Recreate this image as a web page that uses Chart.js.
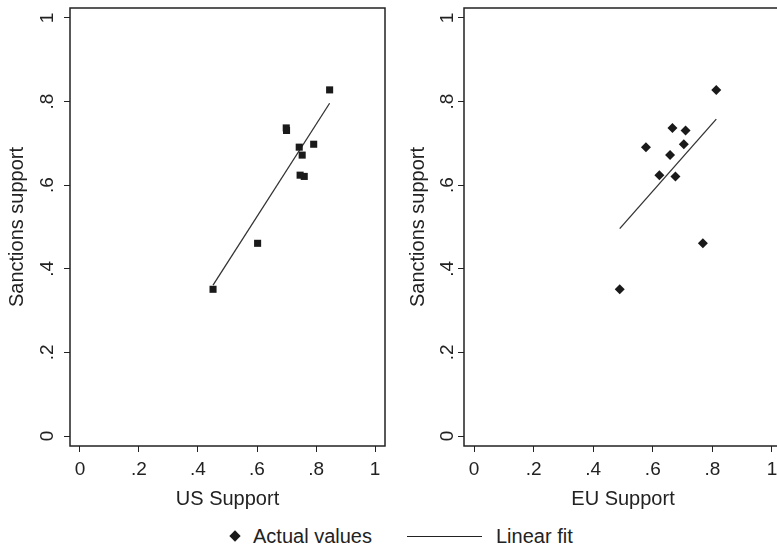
<!DOCTYPE html>
<html>
<head>
<meta charset="utf-8">
<script src="https://cdn.jsdelivr.net/npm/chart.js@4/dist/chart.umd.min.js"></script>
<style>
  body { margin: 0; width: 777px; height: 548px; overflow: hidden; background: #fff; position: relative; font-family: "Liberation Sans", Arial, sans-serif; }
  canvas { position: absolute; top: 0; }
  #us-chart { left: 0; }
  #eu-chart { left: 390px; }
  .legend { position: absolute; top: 524px; height: 24px; font-size: 20px; color: #222; line-height: 24px; }
  .diamond { position: absolute; left: 231px; top: 532px; width: 8px; height: 8px; background: #1a1a1a; transform: rotate(45deg); }
  .fitline { position: absolute; left: 407px; top: 536px; width: 75px; height: 0; border-top: 1.3px solid #222; }
</style>
</head>
<body>
<canvas id="us-chart" width="390" height="520"></canvas>
<canvas id="eu-chart" width="400" height="520"></canvas>
<div class="diamond"></div>
<div class="legend" style="left:253px">Actual values</div>
<div class="fitline"></div>
<div class="legend" style="left:496px">Linear fit</div>
<script>
// values
const sanctions = [0.828, 0.737, 0.731, 0.698, 0.691, 0.672, 0.624, 0.621, 0.461, 0.351];
const usSupport = [0.846, 0.699, 0.700, 0.792, 0.743, 0.753, 0.746, 0.760, 0.602, 0.451];
const euSupport = [0.813, 0.666, 0.710, 0.704, 0.577, 0.658, 0.622, 0.676, 0.768, 0.489];

const usFitX = [0.451, 0.846];
const usFitY = [0.361, 0.796];
const euFitX = [0.489, 0.813];
const euFitY = [0.496, 0.758];

const tickValues = [0, 0.2, 0.4, 0.6, 0.8, 1];
const tickLabels = ['0', '.2', '.4', '.6', '.8', '1'];

const font = '"Liberation Sans", Arial, sans-serif';
const ink = '#222';

// box round the plot area
const framePlugin = {
  id: 'frame',
  afterDraw(chart) {
    const a = chart.chartArea;
    const ctx = chart.ctx;
    ctx.save();
    ctx.strokeStyle = ink;
    ctx.lineWidth = 1.5;
    ctx.strokeRect(a.left, a.top, a.right - a.left, a.bottom - a.top);
    ctx.restore();
  }
};

function pairs(xs, ys) {
  return xs.map((x, i) => ({ x, y: ys[i] }));
}

function makeChart(id, xs, fitX, fitY, xTitle, marker, opts) {
  const shared = {
    afterBuildTicks: s => { s.ticks = tickValues.map(v => ({ value: v })); },
    border: { display: false },
    grid: { drawOnChartArea: false, drawTicks: true, tickLength: 6, color: ink, lineWidth: 1 },
  };
  return new Chart(document.getElementById(id), {
    type: 'scatter',
    data: {
      datasets: [
        {
          data: pairs(xs, sanctions),
          pointStyle: marker,
          pointRadius: 5,
          pointBackgroundColor: '#1a1a1a',
          pointBorderWidth: 0,
        },
        {
          data: pairs(fitX, fitY),
          showLine: true,
          pointRadius: 0,
          borderColor: '#333',
          borderWidth: 1.3,
        },
      ],
    },
    options: {
      responsive: false,
      animation: false,
      events: [],
      layout: { padding: opts.padding },
      plugins: { legend: { display: false }, tooltip: { enabled: false } },
      scales: {
        x: {
          ...shared,
          min: -0.0336,
          max: 1.0336,
          afterFit: s => { s.height = 74; s.paddingLeft = 0; s.paddingRight = 0; },
          ticks: { padding: 6, color: ink, font: { family: font, size: 19 }, callback: (v, i) => tickLabels[i] },
          title: { display: true, text: xTitle, color: ink, font: { family: font, size: 20 }, padding: { bottom: 9 } },
        },
        y: {
          ...shared,
          min: -0.0239,
          max: 1.0239,
          afterFit: s => { s.width = opts.yWidth; s.paddingTop = 0; s.paddingBottom = 0; },
          ticks: {
            padding: opts.tickPad, color: ink, minRotation: 90, maxRotation: 90, crossAlign: 'center',
            font: { family: font, size: 19 }, callback: (v, i) => tickLabels[i],
          },
          title: { display: true, text: 'Sanctions support', color: ink, font: { family: font, size: 20 }, padding: { top: opts.titlePad } },
        },
      },
    },
    plugins: [framePlugin],
  });
}

makeChart('us-chart', usSupport, usFitX, usFitY, 'US Support', 'rect',
  { padding: { top: 8, right: 2, left: 0, bottom: 0 }, yWidth: 70, tickPad: 8, titlePad: 5 });
makeChart('eu-chart', euSupport, euFitX, euFitY, 'EU Support', 'rectRot',
  { padding: { top: 8, right: 8, left: 0, bottom: 0 }, yWidth: 74, tickPad: 2, titlePad: 16 });
</script>
</body>
</html>
